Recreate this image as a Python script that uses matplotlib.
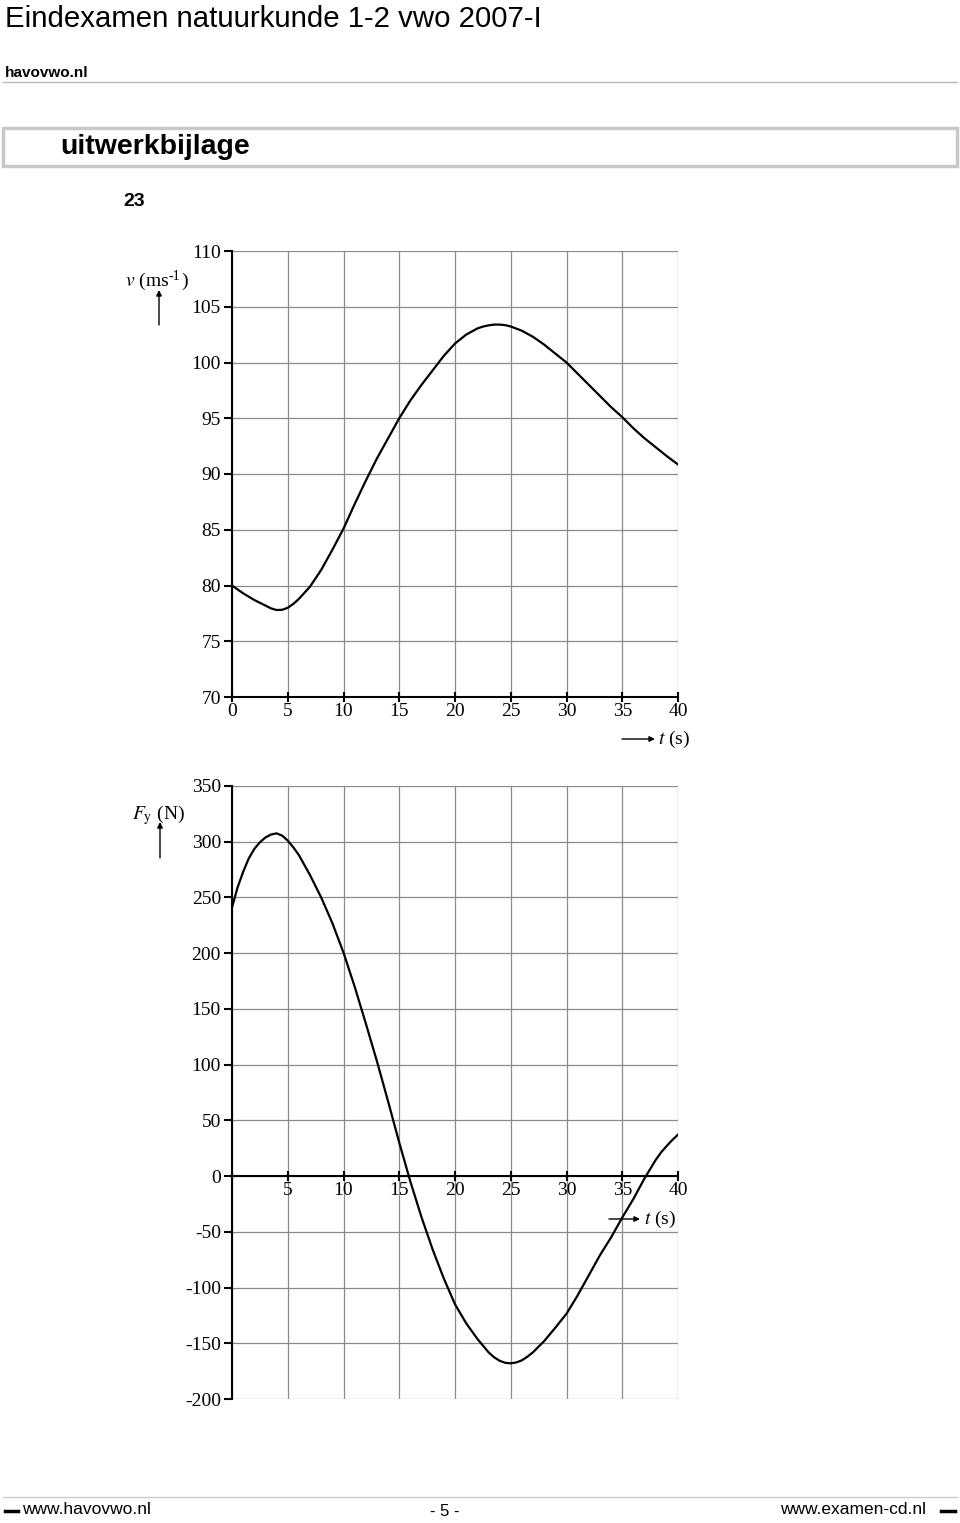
import numpy as np
import matplotlib.pyplot as plt
from matplotlib.lines import Line2D
from matplotlib.patches import Rectangle

plt.rcParams['mathtext.fontset'] = 'stix'
plt.rcParams['axes.unicode_minus'] = False

W, H = 960, 1523

# data
t_v = [0, 1, 2, 3, 3.5, 4, 4.5, 5, 5.5, 6, 7, 8, 9, 10, 11, 12, 13, 14, 15,
       16, 17, 18, 19, 20, 21, 22, 22.5, 23, 23.5, 24, 24.5, 25, 26, 27, 28,
       29, 30, 31, 32, 33, 34, 35, 36, 37, 38, 39, 40]
v = [80.0, 79.3, 78.7, 78.2, 77.95, 77.8, 77.82, 78.0, 78.35, 78.8, 79.9,
     81.4, 83.2, 85.1, 87.3, 89.4, 91.4, 93.2, 95.0,
     96.6, 98.0, 99.3, 100.6, 101.7, 102.5, 103.05, 103.22, 103.33, 103.4, 103.4,
     103.35, 103.23, 102.85, 102.3, 101.6,
     100.8, 100.0, 99.0, 98.0, 97.0, 96.0, 95.1, 94.1, 93.2, 92.4, 91.6, 90.85]

t_F = [0, 0.5, 1, 1.5, 2, 2.5, 3, 3.5, 4, 4.5, 5, 5.5, 6, 7, 8, 9, 10, 11,
       12, 13, 14, 15, 16, 17, 18, 19, 20, 21, 22, 23, 23.5, 24, 24.5, 25,
       25.5, 26, 26.5, 27, 28, 29, 30, 31, 32, 33, 34, 35, 36, 37, 38, 38.5,
       39, 39.5, 40]
Fy = [241, 259, 273, 285, 293.5, 299.5, 303.8, 306.5, 307.5, 305.5, 301, 295,
      288, 270, 250, 227, 200.5, 170,
      137, 103, 67, 30, -5, -37, -66, -92, -115, -132, -146, -158, -162.5,
      -165.7, -167.5, -168,
      -167.2, -165.3, -162, -158, -148, -136, -123.5, -107, -89, -71, -55,
      -37.2, -20.5, -2, 14.5, 21.5,
      27.2, 32.5, 37.2]

t_ticks = [0, 5, 10, 15, 20, 25, 30, 35, 40]
v_ticks = [70, 75, 80, 85, 90, 95, 100, 105, 110]
F_ticks = [-200, -150, -100, -50, 0, 50, 100, 150, 200, 250, 300, 350]

serif = 'Liberation Serif'
sans = 'Liberation Sans'


def fx(x):
    return x / W


def fy(y):
    return 1 - y / H


def box(x0, y0, x1, y1):
    return [fx(x0), fy(y1), fx(x1) - fx(x0), fy(y0) - fy(y1)]


def style(ax):
    ax.grid(True, color='#8a8a8a', lw=0.9)
    ax.set_axisbelow(True)
    for s in ['top', 'right']:
        ax.spines[s].set_visible(False)
    ax.spines['left'].set_linewidth(1.5)
    ax.spines['bottom'].set_linewidth(1.5)
    ax.tick_params(axis='y', direction='out', length=6, width=1.5, pad=2,
                   labelsize=14)
    ax.tick_params(axis='x', direction='inout', length=7, width=1.5, pad=1,
                   labelsize=14)
    for lab in ax.get_xticklabels() + ax.get_yticklabels():
        lab.set_fontfamily(serif)


fig = plt.figure(figsize=(W / 100, H / 100), dpi=100)

# header
fig.text(fx(5), fy(19), 'Eindexamen natuurkunde 1-2 vwo 2007-I', family=sans,
         fontsize=21.2, va='center', ha='left')
fig.text(fx(5), fy(73), 'havovwo.nl', family=sans, fontsize=11,
         fontweight='bold', va='center', ha='left')
fig.add_artist(Line2D([fx(3), fx(957)], [fy(82), fy(82)], color='#bbbbbb', lw=1))
fig.add_artist(Rectangle((fx(3), fy(166)), fx(954), 38 / H, fill=False,
                         edgecolor='#c8c8c8', lw=2.5))
fig.text(fx(60), fy(147), 'uitwerkbijlage', family=sans, fontsize=20.5,
         fontweight='bold', va='center', ha='left')
fig.text(fx(123), fy(201), '23', family=sans, fontsize=14, fontweight='bold',
         va='center', ha='left')

# top plot: v against t
ax1 = fig.add_axes(box(232, 251, 678, 697))
ax1.plot(t_v, v, color='black', lw=1.6, solid_joinstyle='round')
ax1.set_xlim(0, 40)
ax1.set_ylim(70, 110)
ax1.set_xticks(t_ticks)
ax1.set_yticks(v_ticks)
ax1.set_xticklabels([str(k) for k in t_ticks])
ax1.set_yticklabels([str(k) for k in v_ticks])
style(ax1)

# bottom plot: Fy against t
ax2 = fig.add_axes(box(232, 786, 678, 1399))
ax2.plot(t_F, Fy, color='black', lw=1.6, solid_joinstyle='round')
ax2.set_xlim(0, 40)
ax2.set_ylim(-200, 350)
ax2.spines['bottom'].set_position(('data', 0))
ax2.set_xticks(t_ticks)
ax2.set_yticks(F_ticks)
ax2.set_xticklabels([''] + [str(k) for k in t_ticks[1:]])
ax2.set_yticklabels([str(k) for k in F_ticks])
style(ax2)

# axis labels with arrows
arr = dict(arrowstyle='-|>', color='black', lw=1, mutation_scale=8,
           shrinkA=0, shrinkB=0)
fig.text(fx(125), fy(281), r'$v$ (ms', family=serif, fontsize=14,
         ha='left', va='center')
fig.text(fx(168.5), fy(276), '-1', family=serif, fontsize=10,
         ha='left', va='center')
fig.text(fx(181), fy(281), ')', family=serif, fontsize=14,
         ha='left', va='center')
fig.add_artist(plt.Annotation('', xy=(fx(159), fy(290)), xytext=(fx(159), fy(325)),
                              xycoords='figure fraction', arrowprops=arr))
fig.text(fx(158), fy(815), r'$F_{\mathrm{y}}$ (N)', family=serif, fontsize=14,
         ha='center', va='center')
fig.add_artist(plt.Annotation('', xy=(fx(160), fy(822)), xytext=(fx(160), fy(858)),
                              xycoords='figure fraction', arrowprops=arr))

fig.text(fx(658), fy(739), r'$t$ (s)', family=serif, fontsize=14,
         ha='left', va='center')
fig.add_artist(plt.Annotation('', xy=(fx(655), fy(739)), xytext=(fx(622), fy(739)),
                              xycoords='figure fraction', arrowprops=arr))
fig.text(fx(644), fy(1219), r'$t$ (s)', family=serif, fontsize=14,
         ha='left', va='center')
fig.add_artist(plt.Annotation('', xy=(fx(640), fy(1219)), xytext=(fx(609), fy(1219)),
                              xycoords='figure fraction', arrowprops=arr))

# footer
fig.add_artist(Line2D([fx(3), fx(957)], [fy(1497), fy(1497)], color='#cccccc', lw=1))
fig.add_artist(Line2D([fx(5), fx(18)], [fy(1511), fy(1511)], color='black', lw=2.5))
fig.text(fx(22), fy(1510), 'www.havovwo.nl', family=sans, fontsize=12.5,
         ha='left', va='center')
fig.text(fx(445), fy(1512), '- 5 -', family=sans, fontsize=12,
         ha='center', va='center')
fig.text(fx(926), fy(1510), 'www.examen-cd.nl', family=sans, fontsize=12.5,
         ha='right', va='center')
fig.add_artist(Line2D([fx(941), fx(955)], [fy(1511), fy(1511)], color='black', lw=2.5))

fig.savefig('out.png', dpi=100)
